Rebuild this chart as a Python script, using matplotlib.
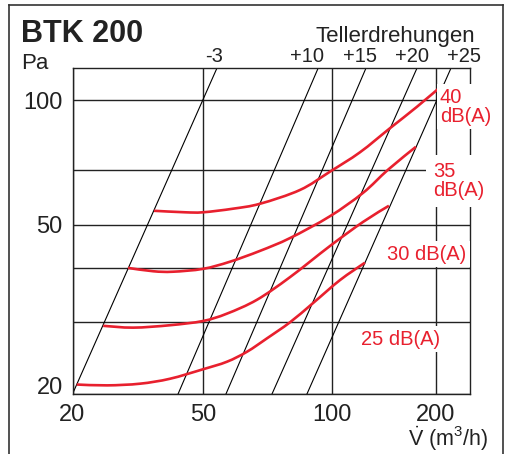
import numpy as np
import matplotlib
matplotlib.use("Agg")
import matplotlib.pyplot as plt
from matplotlib.lines import Line2D
from matplotlib.path import Path
from matplotlib.patches import PathPatch

plt.rcParams['font.family'] = ['Liberation Sans', 'DejaVu Sans']
plt.rcParams['mathtext.fontset'] = 'custom'
plt.rcParams['mathtext.rm'] = 'Liberation Sans'
plt.rcParams['mathtext.it'] = 'Liberation Sans'

# ---------------- data ----------------
x_ticks = [20, 50, 100, 200]
x_tick_labels = ['20', '50', '100', '200']
y_ticks = [20, 50, 100]
y_tick_labels = ['20', '50', '100']
y_minor = [30, 40, 70]

# sound-level curves: volume flow (m3/h) vs pressure (Pa)
v_40 = [35.4, 44.0, 49.9, 58.7, 67.9, 84.2, 98.9, 120.5, 147.2, 176.2, 209.6]
p_40 = [54.5, 54.0, 54.0, 55.2, 56.9, 61.9, 69.2, 76.6, 86.7, 96.8, 108.4]
v_35 = [29.5, 35.2, 40.4, 49.9, 57.7, 67.9, 79.8, 98.9, 123.0, 145.2, 175.0]
p_35 = [40.0, 39.3, 39.2, 39.8, 41.3, 43.7, 46.7, 52.7, 60.8, 70.0, 78.8]
v_30 = [24.8, 30.6, 39.6, 49.9, 56.8, 66.8, 79.8, 98.9, 123.0, 146.2]
p_30 = [29.4, 29.1, 29.5, 30.2, 31.4, 33.8, 38.1, 44.8, 50.9, 56.2]
v_25 = [20.6, 25.5, 32.1, 39.6, 49.9, 56.8, 63.3, 70.5, 79.8, 90.3, 105.5, 124.6]
p_25 = [21.1, 21.0, 21.2, 21.8, 23.0, 24.0, 25.4, 27.4, 30.0, 33.2, 37.5, 41.1]
curve_labels = ['40\ndB(A)', '35\ndB(A)', '30 dB(A)', '25 dB(A)']

# disc-rotation lines (Tellerdrehungen): flow at bottom (20 Pa) and top (118 Pa)
rot_labels = ['-3', '+10', '+15', '+20', '+25']
rot_v_bottom = [20.0, 41.9, 56.5, 72.4, 87.4]
rot_v_top = [53.8, 92.8, 125.4, 176.2, 221.0]
rot_p = [20.0, 118.0]
rot_label_v = [53.0, 87.4, 120.5, 170.4, 241.0]

# ---------------- axis scales (printed grid spacing) ----------------
def piecewise_log(values, positions):
    lv = np.log10(np.asarray(values, float))
    ps = np.asarray(positions, float)
    s0 = (ps[1] - ps[0]) / (lv[1] - lv[0])
    s1 = (ps[-1] - ps[-2]) / (lv[-1] - lv[-2])

    def fwd(v):
        v = np.asarray(v, float)
        l = np.log10(np.clip(v, 1e-9, None))
        out = np.interp(l, lv, ps)
        out = np.where(l < lv[0], ps[0] + (l - lv[0]) * s0, out)
        out = np.where(l > lv[-1], ps[-1] + (l - lv[-1]) * s1, out)
        return out

    def inv(p):
        p = np.asarray(p, float)
        out = np.interp(p, ps, lv)
        out = np.where(p < ps[0], lv[0] + (p - ps[0]) / s0, out)
        out = np.where(p > ps[-1], lv[-1] + (p - ps[-1]) / s1, out)
        return 10 ** out

    return fwd, inv

fx, ix = piecewise_log([20, 50, 100, 200], [0, 130.8, 259.5, 363.5])
fy, iy = piecewise_log([20, 30, 40, 50, 70, 100], [0, 71.7, 126, 169, 224, 293.3])


def smooth_path(xs, ys):
    """Catmull-Rom curve through the points, built in scale space."""
    pts = np.column_stack([fx(xs), fy(ys)])
    n = len(pts)
    verts = [pts[0]]
    codes = [Path.MOVETO]
    for i in range(n - 1):
        p0 = pts[i - 1] if i > 0 else pts[i]
        p1 = pts[i]
        p2 = pts[i + 1]
        p3 = pts[i + 2] if i + 2 < n else pts[i + 1]
        verts += [p1 + (p2 - p0) / 6.0, p2 - (p3 - p1) / 6.0, p2]
        codes += [Path.CURVE4] * 3
    verts = np.array(verts)
    return Path(np.column_stack([ix(verts[:, 0]), iy(verts[:, 1])]), codes)


W, H = 508, 454
fig = plt.figure(figsize=(W / 100, H / 100), dpi=100, facecolor='white')
ax = fig.add_axes([72.5 / W, 1 - 394 / H, (470 - 72.5) / W, (394 - 68.3) / H])
ax.set_xscale('function', functions=(fx, ix))
ax.set_yscale('function', functions=(fy, iy))
ax.set_xlim(20, 251)
ax.set_ylim(20, 118)

ax.set_xticks(x_ticks)
ax.set_xticklabels(x_tick_labels)
ax.set_xticks([], minor=True)
ax.set_yticks(y_ticks)
ax.set_yticklabels(y_tick_labels)
ax.set_yticks(y_minor, minor=True)
ax.tick_params(which='both', length=0)
ax.tick_params(axis='x', pad=7, labelsize=17, labelcolor='#222222')
ax.tick_params(axis='y', pad=7, labelsize=17, labelcolor='#222222')
ax.grid(True, which='both', color='#222222', linewidth=1.0, zorder=1)
ax.set_axisbelow(True)
for s in ax.spines.values():
    s.set_color('#222222')
    s.set_linewidth(1.0)
ax.yaxis.get_major_ticks()[0].label1.set_verticalalignment('baseline')

# rotation lines
for vb, vt in zip(rot_v_bottom, rot_v_top):
    ax.plot([vb, vt], rot_p, color='black', linewidth=0.8, zorder=2)
xt = ax.get_xaxis_transform()
for v, lab in zip(rot_label_v, rot_labels):
    ax.text(v, 1.019, lab, transform=xt, ha='center', va='baseline',
            fontsize=14.5, color='#222222', clip_on=False)

# sound curves
red = '#e8202e'
for vv, pp in [(v_40, p_40), (v_35, p_35), (v_30, p_30), (v_25, p_25)]:
    ax.add_patch(PathPatch(smooth_path(vv, pp), facecolor='none', edgecolor=red,
                           linewidth=1.9, capstyle='butt', joinstyle='round',
                           zorder=3))

box = dict(facecolor='white', edgecolor='none', pad=2.5)
ax.text(205.4, 106.8, curve_labels[0], color=red, fontsize=14.5, ha='left',
        va='top', linespacing=1.0, bbox=box, zorder=5, clip_on=False)
ax.text(196.0, 72.9, curve_labels[1], color=red, fontsize=14.5, ha='left',
        va='top', linespacing=1.0, bbox=dict(facecolor='white', edgecolor='none', pad=5),
        zorder=5, clip_on=False)
ax.text(144.3, 41.7, curve_labels[2], color=red, fontsize=14.5, ha='left',
        va='baseline', bbox=box, zorder=5, clip_on=False)
ax.text(121.3, 26.4, curve_labels[3], color=red, fontsize=14.5, ha='left',
        va='baseline', bbox=box, zorder=5, clip_on=False)

# headings
fig.text(21 / W, 1 - 42 / H, 'BTK 200', fontsize=22, fontweight='bold',
         ha='left', va='baseline', color='#222222')
fig.text(21 / W, 1 - 69 / H, 'Pa', fontsize=16, ha='left', va='baseline', color='#222222')
fig.text(475 / W, 1 - 42 / H, 'Tellerdrehungen', fontsize=16, ha='right',
         va='baseline', color='#222222')
fig.text(488 / W, 1 - 446 / H, r'$\dot{\mathrm{V}}$ (m$^{\mathrm{3}}$/h)', fontsize=15.5,
         ha='right', va='baseline', color='#222222')

# outer frame (open at the bottom)
frame_kw = dict(color='#333333', linewidth=1.2, transform=fig.transFigure)
fig.add_artist(Line2D([9 / W, 9 / W], [0, 1 - 5 / H], **frame_kw))
fig.add_artist(Line2D([9 / W, 503 / W], [1 - 5 / H, 1 - 5 / H], **frame_kw))
fig.add_artist(Line2D([503 / W, 503 / W], [0, 1 - 5 / H], **frame_kw))

fig.savefig('out.png', dpi=100, facecolor='white')
